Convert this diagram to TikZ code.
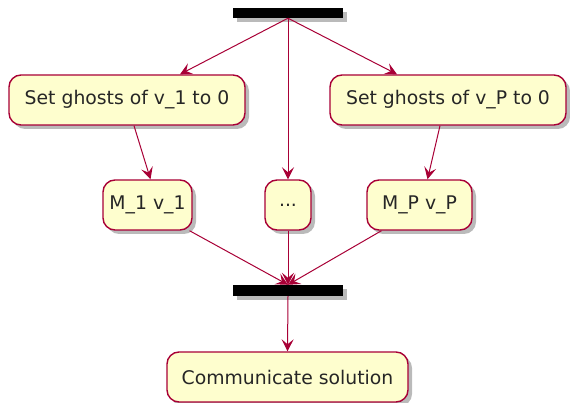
\documentclass[tikz,border=0pt]{standalone}
\usepackage{fontspec}
\setmainfont{DejaVu Sans}
\usetikzlibrary{arrows.meta,shadows,calc}
\definecolor{pumlfill}{HTML}{FEFECE}
\definecolor{pumlline}{HTML}{A80036}
\begin{document}
\begin{tikzpicture}[x=1pt,y=-1pt,
  actbox/.style={draw=pumlline,line width=1.4pt,fill=pumlfill,rounded corners=12pt,
    minimum height=50pt,inner sep=0pt,font=\fontsize{18.8}{22}\selectfont,text=black!85,
    drop shadow={shadow xshift=4pt,shadow yshift=-4pt,opacity=0.45,fill=black!60}},
  forkbar/.style={fill=black,draw=none,minimum width=110pt,minimum height=10pt,inner sep=0pt,
    drop shadow={shadow xshift=4pt,shadow yshift=-4pt,opacity=0.45,fill=black!60}},
  flow/.style={draw=pumlline,line width=1pt,-{Stealth[length=12pt,width=12pt,inset=5pt]}}]
\useasboundingbox (0,0) rectangle (570,403);
\node[forkbar] (bar1) at (288,13) {};
\node[actbox,minimum width=236pt] (s1) at (127,100) {Set ghosts of v\_1 to 0};
\node[actbox,minimum width=236pt] (sP) at (448,100) {Set ghosts of v\_P to 0};
\node[actbox,minimum width=89pt] (m1) at (147.5,205) {M\_1 v\_1};
\node[actbox,minimum width=46pt] (dots) at (288,205) {...};
\node[actbox,minimum width=105pt] (mP) at (419.5,205) {M\_P v\_P};
\node[forkbar,minimum height=11pt] (bar2) at (288,290.5) {};
\node[actbox,minimum width=241pt] (comm) at (287.5,377) {Communicate solution};
\coordinate (t1) at ($(s1.north)+(53,0)$);
\coordinate (tP) at ($(sP.north)+(-51,0)$);
\coordinate (b1) at ($(s1.south)+(7,0)$);
\coordinate (bP) at ($(sP.south)+(-8,0)$);
\coordinate (u1) at ($(m1.north)+(3,0)$);
\coordinate (uP) at ($(mP.north)+(8,0)$);
\coordinate (d1) at ($(m1.south)+(42,0)$);
\coordinate (dP) at ($(mP.south)+(-38,0)$);
\draw[flow] (bar1.south) -- (t1);
\draw[flow] (bar1.south) -- (dots.north);
\draw[flow] (bar1.south) -- (tP);
\draw[flow] (b1) -- (u1);
\draw[flow] (bP) -- (uP);
\draw[flow] (d1) -- (bar2.north);
\draw[flow] (dots.south) -- (bar2.north);
\draw[flow] (dP) -- (bar2.north);
\draw[flow] (bar2.south) -- (comm.north);
\end{tikzpicture}
\end{document}
